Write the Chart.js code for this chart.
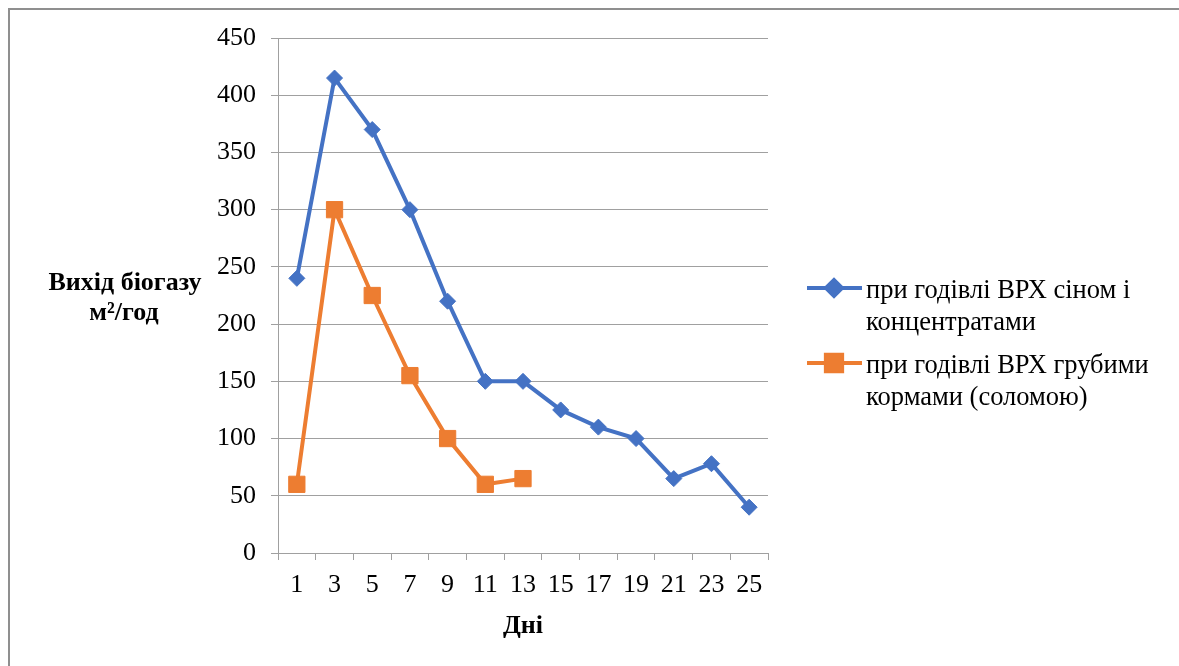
<!DOCTYPE html>
<html>
<head>
<meta charset="utf-8">
<script src="https://cdn.jsdelivr.net/npm/chart.js@4"></script>
<style>
  html, body { margin: 0; padding: 0; background: #ffffff; }
  #wrap { position: relative; width: 1179px; height: 666px; }
</style>
</head>
<body>
<div id="wrap"><canvas id="c" width="1179" height="666"></canvas></div>
<script>
// Days of the experiment (x axis categories)
const days = ['1', '3', '5', '7', '9', '11', '13', '15', '17', '19', '21', '23', '25'];
// Biogas output when cattle are fed hay and concentrates
const hayConcentrates = [240, 415, 370, 300, 220, 150, 150, 125, 110, 100, 65, 78, 40];
// Biogas output when cattle are fed roughage (straw)
const roughStraw = [60, 300, 225, 155, 100, 60, 65];
// Value axis ticks
const yTicks = [0, 50, 100, 150, 200, 250, 300, 350, 400, 450];

const seriesNames = [
  ['при годівлі ВРХ сіном і', 'концентратами'],
  ['при годівлі ВРХ грубими', 'кормами (соломою)']
];
const yTitle = ['Вихід біогазу', 'м²/год'];

const BLUE = '#4472C4';
const ORANGE = '#ED7D31';
const GRID = '#a0a0a0';
const SERIF = '"Liberation Serif", "Times New Roman", serif';
const FONT_SIZE = 26;

const decorations = {
  id: 'decorations',
  beforeDraw(chart) {
    const ctx = chart.ctx;
    ctx.save();
    ctx.fillStyle = '#ffffff';
    ctx.fillRect(0, 0, chart.width, chart.height);
    // frame around the chart
    ctx.strokeStyle = '#8f8f8f';
    ctx.lineWidth = 2;
    ctx.beginPath();
    ctx.moveTo(9, chart.height);
    ctx.lineTo(9, 9);
    ctx.lineTo(chart.width, 9);
    ctx.stroke();
    ctx.restore();
  },
  afterDraw(chart) {
    const ctx = chart.ctx;
    ctx.save();
    // horizontal value-axis title
    ctx.fillStyle = '#000000';
    ctx.font = 'bold ' + FONT_SIZE + 'px ' + SERIF;
    ctx.textAlign = 'center';
    ctx.textBaseline = 'middle';
    ctx.fillText(yTitle[0], 125, 283);
    ctx.fillText(yTitle[1], 124, 313);

    // legend on the right
    const items = chart.data.datasets;
    const rows = [288, 363];
    items.forEach((ds, i) => {
      const y = rows[i];
      ctx.strokeStyle = ds.borderColor;
      ctx.lineWidth = 4;
      ctx.beginPath();
      ctx.moveTo(807, y);
      ctx.lineTo(862, y);
      ctx.stroke();
      Chart.helpers.drawPoint(ctx, {
        pointStyle: ds.pointStyle,
        radius: ds.pointRadius,
        borderWidth: 1
      }, 834, y);
      ctx.fillStyle = ds.pointBackgroundColor;
      ctx.fill();
      ctx.fillStyle = '#000000';
      ctx.font = '26.5px ' + SERIF;
      ctx.textAlign = 'left';
      ctx.textBaseline = 'middle';
      seriesNames[i].forEach((line, k) => ctx.fillText(line, 866, y + 3 + k * 32));
    });
    ctx.restore();
  }
};

new Chart(document.getElementById('c'), {
  type: 'line',
  data: {
    labels: days,
    datasets: [
      {
        label: seriesNames[0].join(' '),
        data: hayConcentrates,
        borderColor: BLUE,
        backgroundColor: BLUE,
        pointBackgroundColor: BLUE,
        pointBorderColor: BLUE,
        borderWidth: 4,
        pointStyle: 'rectRot',
        pointRadius: 8,
        pointBorderWidth: 1,
        tension: 0
      },
      {
        label: seriesNames[1].join(' '),
        data: roughStraw,
        borderColor: ORANGE,
        backgroundColor: ORANGE,
        pointBackgroundColor: ORANGE,
        pointBorderColor: ORANGE,
        borderWidth: 4,
        pointStyle: 'rect',
        pointRadius: 11.5,
        pointBorderWidth: 1,
        tension: 0
      }
    ]
  },
  options: {
    responsive: false,
    animation: false,
    devicePixelRatio: 1,
    layout: { padding: { left: 0, right: 411, top: 38, bottom: 0 } },
    plugins: {
      legend: { display: false },
      tooltip: { enabled: false }
    },
    scales: {
      x: {
        type: 'category',
        offset: true,
        grid: {
          display: true,
          offset: true,
          drawOnChartArea: false,
          drawTicks: true,
          tickLength: 7,
          color: GRID,
          lineWidth: 1
        },
        border: { display: true, color: GRID, width: 1 },
        ticks: {
          color: '#000000',
          font: { family: SERIF, size: FONT_SIZE },
          padding: 10,
          maxRotation: 0,
          autoSkip: false
        },
        title: {
          display: true,
          text: 'Дні',
          color: '#000000',
          font: { family: SERIF, size: FONT_SIZE, weight: 'bold' },
          padding: { top: 0, bottom: 24 }
        },
        afterFit(scale) { scale.height = 113; }
      },
      y: {
        min: 0,
        max: 450,
        afterBuildTicks(scale) { scale.ticks = yTicks.map(v => ({ value: v })); },
        grid: {
          color: GRID,
          lineWidth: 1,
          drawTicks: true,
          tickLength: 7
        },
        border: { display: true, color: GRID, width: 1 },
        ticks: {
          color: '#000000',
          font: { family: SERIF, size: FONT_SIZE },
          padding: 15
        },
        afterFit(scale) { scale.width = 278; }
      }
    }
  },
  plugins: [decorations]
});
</script>
</body>
</html>
